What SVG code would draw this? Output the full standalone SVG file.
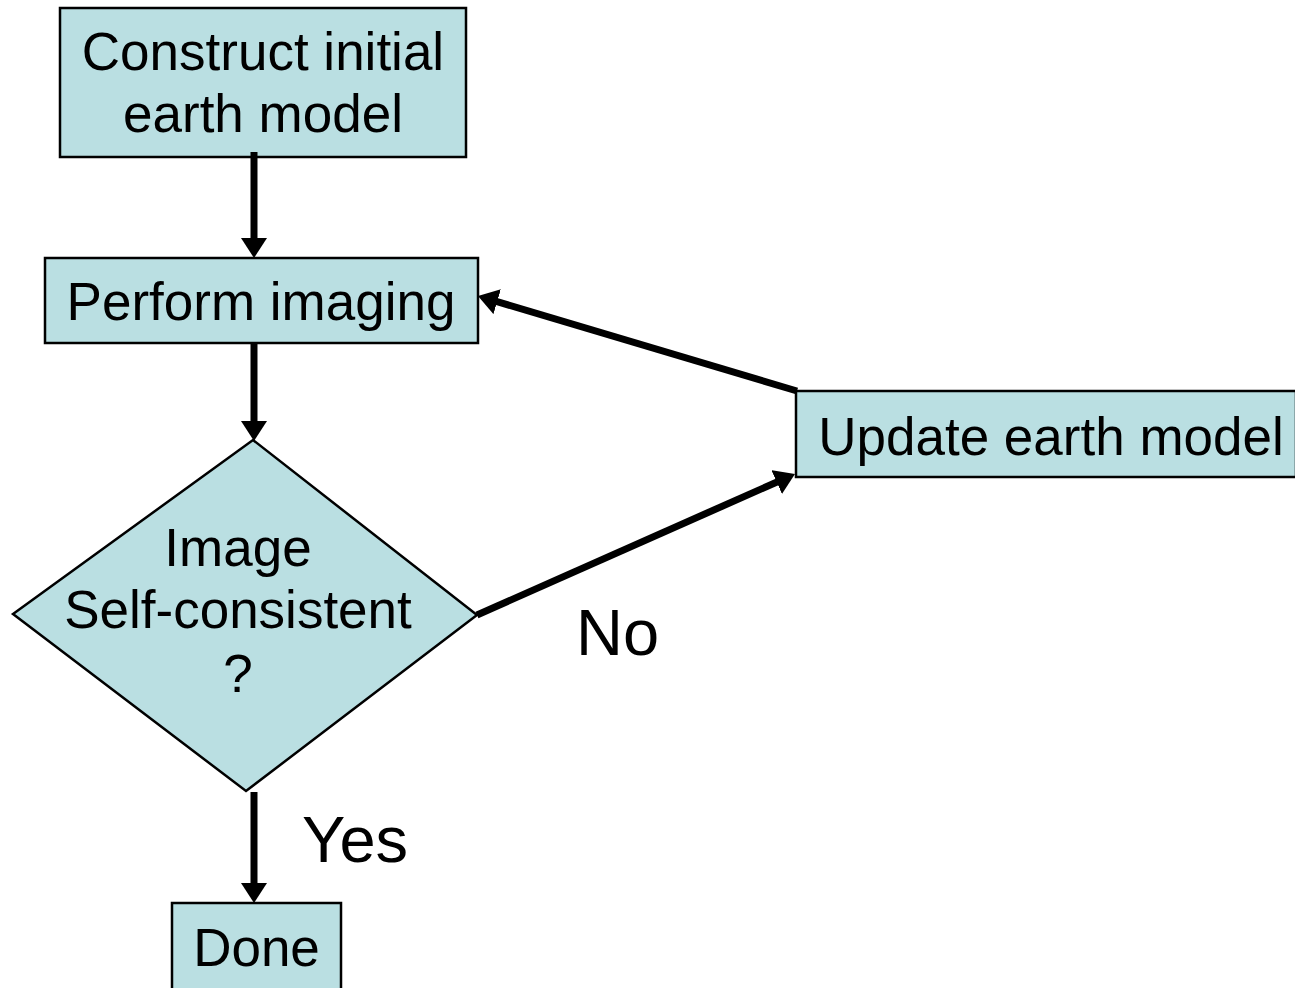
<svg xmlns="http://www.w3.org/2000/svg" width="1295" height="988" viewBox="0 0 1295 988">
<style>
.node{fill:#BADFE2;stroke:#000;stroke-width:2.5}
.t{font-family:"Liberation Sans",Arial,sans-serif;font-size:53px;fill:#000;text-anchor:middle}
.lbl{font-family:"Liberation Sans",Arial,sans-serif;font-size:65px;fill:#000}
.c{fill:none;stroke:#000;stroke-width:7;marker-end:url(#ah)}
</style>
<defs>
<marker id="ah" viewBox="0 0 20 26" markerWidth="20" markerHeight="26" refX="1" refY="13" orient="auto" markerUnits="userSpaceOnUse">
<path d="M0,0 L20,13 L0,26 z" fill="#000"/>
</marker>
</defs>
<rect width="1295" height="988" fill="#fff"/>
<g id="construct">
<rect class="node" x="60" y="8" width="406" height="149"/>
<text class="t" x="263" y="70">Construct initial</text>
<text class="t" x="263" y="132">earth model</text>
</g>
<g id="perform">
<rect class="node" x="45" y="258" width="433" height="85"/>
<text class="t" x="261" y="320">Perform imaging</text>
</g>
<g id="decision">
<polygon class="node" points="253,440 477,615 246,791 13,614"/>
<text class="t" x="238" y="566">Image</text>
<text class="t" x="238" y="628">Self-consistent</text>
<text class="t" x="238" y="692">?</text>
</g>
<g id="update">
<rect class="node" x="796" y="391" width="500" height="86"/>
<text class="t" x="1051" y="455">Update earth model</text>
</g>
<g id="done">
<rect class="node" x="172" y="903" width="169" height="95"/>
<text class="t" x="256.5" y="966">Done</text>
</g>
<g id="connectors">
<path class="c" d="M254,152 L254,239"/>
<path class="c" d="M254,343 L254,422"/>
<path class="c" d="M477,615 L777.6,481.7"/>
<path class="c" d="M797,391 L496.2,301.4"/>
<path class="c" d="M254,792 L254,884"/>
<text class="lbl" x="576" y="655">No</text>
<text class="lbl" x="302" y="862">Yes</text>
</g>
</svg>
